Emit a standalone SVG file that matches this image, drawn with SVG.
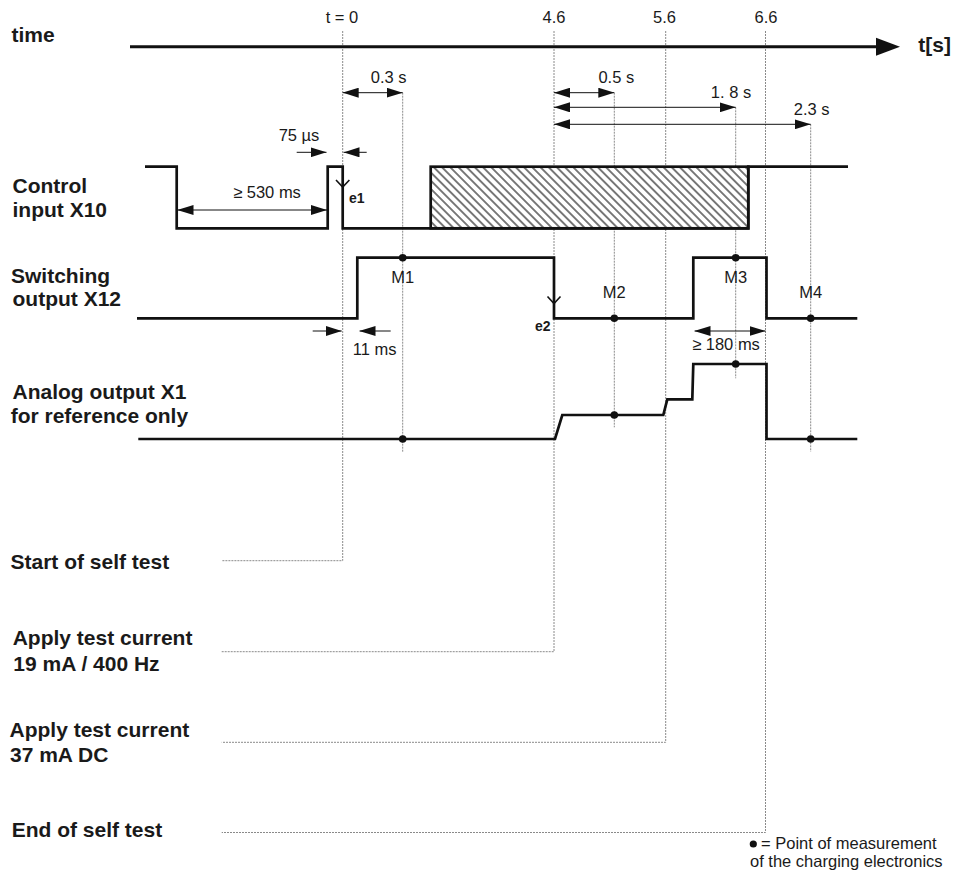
<svg xmlns="http://www.w3.org/2000/svg" width="954" height="882" viewBox="0 0 954 882">
<style>
.lbl{font-family:"Liberation Sans",Arial,sans-serif;font-weight:bold;font-size:21px;fill:#1a1a1a}
.txt{font-family:"Liberation Sans",Arial,sans-serif;font-size:16.5px;fill:#1a1a1a}
.edge{font-family:"Liberation Sans",Arial,sans-serif;font-weight:bold;font-size:14px;fill:#1a1a1a}
.sig{fill:none;stroke:#111;stroke-width:2.7;stroke-linejoin:miter;stroke-linecap:butt}
.dot{fill:none;stroke:#8a8a8a;stroke-width:1;stroke-dasharray:2 1}
.dim{fill:none;stroke:#111;stroke-width:1}
.chev{fill:none;stroke:#111;stroke-width:1.6}
.pt{fill:#111}
</style>
<defs>
<marker id="ah" markerWidth="16" markerHeight="10" refX="16" refY="5" orient="auto-start-reverse" markerUnits="userSpaceOnUse">
<path d="M0,0 L16,5 L0,10 z" fill="#111"/>
</marker>
<pattern id="hatch" patternUnits="userSpaceOnUse" width="8" height="5.8" patternTransform="rotate(45)">
<rect width="8" height="5.8" fill="#fff"/>
<path d="M0,2.9 H8" stroke="#222" stroke-width="1.2"/>
</pattern>
</defs>

<g id="connectors">
<path class="dot" d="M342.7,31 V560.7 H221.7"/>
<path class="dot" d="M554,31 V651.7 H221.7"/>
<path class="dot" d="M665.7,31 V742.3 H221.7"/>
<path class="dot" d="M765.5,31 V832.5 H221.7"/>
<path class="dot" d="M402.7,92.7 V452"/>
<path class="dot" d="M614.3,92.7 V427.3"/>
<path class="dot" d="M735.7,107.3 V378.3"/>
<path class="dot" d="M810.7,124.3 V451.7"/>
</g>

<g id="time-axis">
<line x1="130" y1="46.7" x2="880" y2="46.7" stroke="#111" stroke-width="3"/>
<path d="M876,37.7 L900,46.7 L876,55.7 z" fill="#111"/>
<text class="lbl" x="11.5" y="41.5">time</text>
<text class="lbl" x="918.3" y="52">t[s]</text>
<text class="txt" x="342" y="22.7" text-anchor="middle">t = 0</text>
<text class="txt" x="554" y="22.7" text-anchor="middle">4.6</text>
<text class="txt" x="664.5" y="22.7" text-anchor="middle">5.6</text>
<text class="txt" x="766" y="22.7" text-anchor="middle">6.6</text>
</g>

<g id="durations">
<line class="dim" x1="342.7" y1="92.7" x2="402.7" y2="92.7" marker-start="url(#ah)" marker-end="url(#ah)"/>
<text class="txt" x="388.7" y="82.7" text-anchor="middle">0.3 s</text>
<line class="dim" x1="554" y1="92.7" x2="614.3" y2="92.7" marker-start="url(#ah)" marker-end="url(#ah)"/>
<text class="txt" x="616.3" y="82.7" text-anchor="middle">0.5 s</text>
<line class="dim" x1="554" y1="107.3" x2="735.7" y2="107.3" marker-start="url(#ah)" marker-end="url(#ah)"/>
<text class="txt" x="731" y="97.7" text-anchor="middle">1. 8 s</text>
<line class="dim" x1="554" y1="124.3" x2="810.7" y2="124.3" marker-start="url(#ah)" marker-end="url(#ah)"/>
<text class="txt" x="811.7" y="115" text-anchor="middle">2.3 s</text>
</g>

<g id="control-input">
<text class="lbl" x="12.5" y="192.7">Control</text>
<text class="lbl" x="12.5" y="216.7">input X10</text>
<rect x="430.7" y="166.7" width="317.6" height="61.6" fill="url(#hatch)" stroke="#111" stroke-width="2.7"/>
<polyline class="sig" points="145,166.7 176.7,166.7 176.7,228.3 327.7,228.3 327.7,166.7 342.7,166.7 342.7,228.3 748.3,228.3 748.3,166.7 848,166.7"/>
<path class="chev" d="M336,180 L342.7,187 L349.4,180"/>
<text class="edge" x="349" y="203">e1</text>
<line class="dim" x1="177.5" y1="210" x2="327" y2="210" marker-start="url(#ah)" marker-end="url(#ah)"/>
<text class="txt" x="267" y="198.3" text-anchor="middle">≥ 530 ms</text>
<line class="dim" x1="296.7" y1="152.3" x2="326.5" y2="152.3" marker-end="url(#ah)"/>
<line class="dim" x1="366.7" y1="152.3" x2="343.5" y2="152.3" marker-end="url(#ah)"/>
<text class="txt" x="299" y="141" text-anchor="middle">75 µs</text>
</g>

<g id="switching-output">
<text class="lbl" x="11" y="283.3">Switching</text>
<text class="lbl" x="12.5" y="306">output X12</text>
<polyline class="sig" points="137,318.3 357.3,318.3 357.3,257.7 554,257.7 554,318.3 693.3,318.3 693.3,257.7 766.5,257.7 766.5,318.3 857.3,318.3"/>
<path class="chev" d="M547.5,296.5 L554,303.5 L560.5,296.5"/>
<text class="edge" x="535" y="331">e2</text>
<circle class="pt" cx="402.7" cy="257.7" r="3.8"/>
<circle class="pt" cx="614.3" cy="318.3" r="3.8"/>
<circle class="pt" cx="735.7" cy="257.7" r="3.8"/>
<circle class="pt" cx="810.7" cy="318.3" r="3.8"/>
<text class="txt" x="402.7" y="283" text-anchor="middle">M1</text>
<text class="txt" x="614.3" y="298" text-anchor="middle">M2</text>
<text class="txt" x="735.7" y="283" text-anchor="middle">M3</text>
<text class="txt" x="810.7" y="298" text-anchor="middle">M4</text>
<line class="dim" x1="312.7" y1="331" x2="341.7" y2="331" marker-end="url(#ah)"/>
<line class="dim" x1="390.7" y1="331" x2="359.5" y2="331" marker-end="url(#ah)"/>
<text class="txt" x="374.7" y="355" text-anchor="middle">11 ms</text>
<line class="dim" x1="694.5" y1="331" x2="765.5" y2="331" marker-start="url(#ah)" marker-end="url(#ah)"/>
<text class="txt" x="726" y="350" text-anchor="middle">≥ 180 ms</text>
</g>

<g id="analog-output">
<text class="lbl" x="12.5" y="399.3">Analog output X1</text>
<text class="lbl" x="10.7" y="423.3">for reference only</text>
<polyline class="sig" points="138.3,439 555,439 562.3,415 663.3,415 667.3,399.3 692.3,399.3 693.3,364 766.5,364 766.5,439 857.3,439"/>
<circle class="pt" cx="402.7" cy="439" r="3.8"/>
<circle class="pt" cx="614.3" cy="415" r="3.8"/>
<circle class="pt" cx="735.7" cy="364" r="3.8"/>
<circle class="pt" cx="810.7" cy="439" r="3.8"/>
</g>

<g id="start-self-test">
<text class="lbl" x="10.5" y="569">Start of self test</text>
</g>
<g id="apply-19mA">
<text class="lbl" x="12.7" y="645">Apply test current</text>
<text class="lbl" x="13.3" y="671">19 mA / 400 Hz</text>
</g>
<g id="apply-37mA">
<text class="lbl" x="9.5" y="736.7">Apply test current</text>
<text class="lbl" x="10" y="761.7">37 mA DC</text>
</g>
<g id="end-self-test">
<text class="lbl" x="11.7" y="836.7">End of self test</text>
</g>

<g id="legend">
<circle class="pt" cx="753.3" cy="844" r="3.6"/>
<text class="txt" x="761" y="849.3">= Point of measurement</text>
<text class="txt" x="750" y="867">of the charging electronics</text>
</g>
</svg>
